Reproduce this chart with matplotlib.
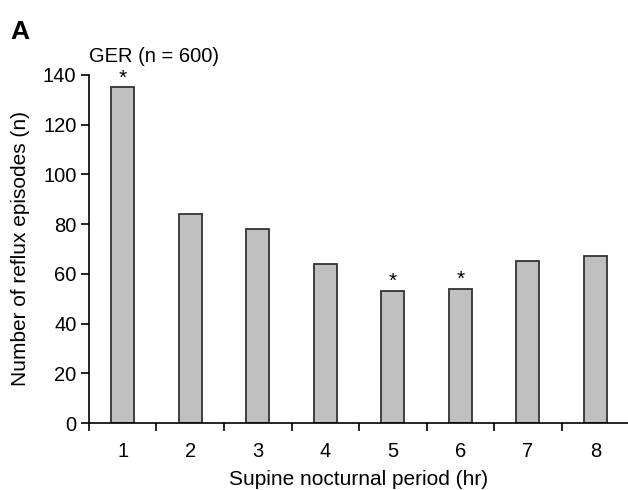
import numpy as np
import matplotlib.pyplot as plt

plt.rcParams['font.family'] = ['Liberation Sans', 'DejaVu Sans']

# data
periods = ['1', '2', '3', '4', '5', '6', '7', '8']
episodes = [135, 84, 78, 64, 53, 54, 65, 67]
significant = [True, False, False, False, True, True, False, False]

fig = plt.figure(figsize=(6.28, 4.9), dpi=100)
ax = fig.add_axes([0.1417, 0.1367, 0.86, 0.7103])

x = np.arange(len(periods))
ax.bar(x, episodes, width=0.34, color='#c0c0c0', edgecolor='#333333', linewidth=1.3)

for xi, v, s in zip(x, episodes, significant):
    if s:
        ax.annotate('*', xy=(xi, v), xytext=(0, 0), textcoords='offset points',
                    ha='center', va='bottom', fontsize=15)

ax.set_xlim(-0.5, len(periods) - 0.5)
ax.set_ylim(0, 140)
ax.set_yticks(np.arange(0, 141, 20))
ax.set_xticks(x)
ax.set_xticklabels(periods)
ax.set_xticks(np.arange(-0.5, len(periods) - 0.5, 1), minor=True)
ax.tick_params(axis='x', which='major', length=0, pad=14, labelsize=14.5)
ax.tick_params(axis='x', which='minor', length=6, width=1.2, direction='out')
ax.tick_params(axis='y', length=6, width=1.2, labelsize=14.5, pad=3)

for side in ['top', 'right']:
    ax.spines[side].set_visible(False)
for side in ['left', 'bottom']:
    ax.spines[side].set_linewidth(1.2)

ax.set_xlabel('Supine nocturnal period (hr)', fontsize=15, labelpad=6)
ax.set_ylabel('Number of reflux episodes (n)', fontsize=15, labelpad=9)

fig.text(0.016, 0.92, 'A', fontsize=19, fontweight='bold', ha='left', va='baseline')
fig.text(0.142, 0.874, 'GER (n = 600)', fontsize=14.5, ha='left', va='baseline')

fig.savefig('out.png', dpi=100)
